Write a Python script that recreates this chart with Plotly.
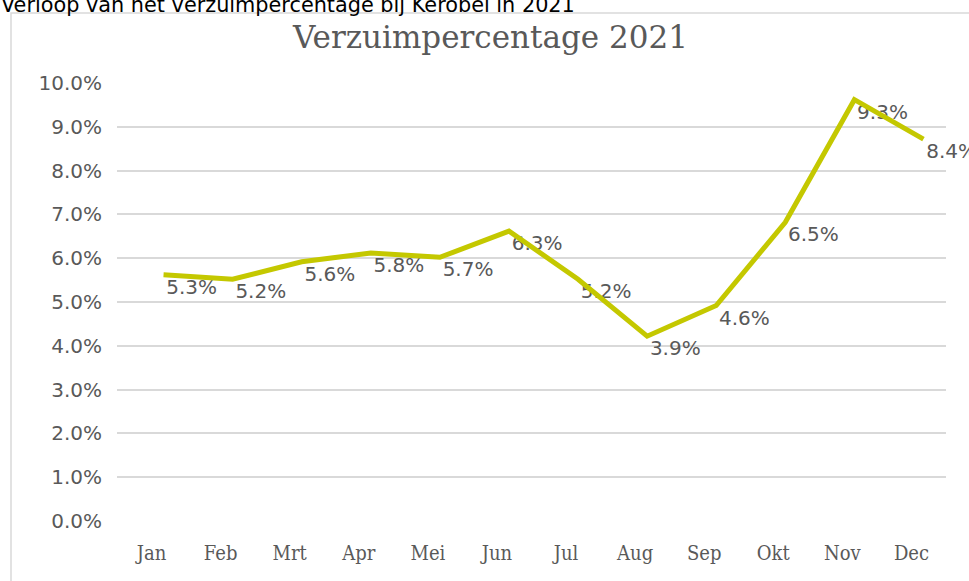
import plotly.graph_objects as go

# Data
months = ["Jan", "Feb", "Mrt", "Apr", "Mei", "Jun", "Jul", "Aug", "Sep", "Okt", "Nov", "Dec"]
verzuim = [0.053, 0.052, 0.056, 0.058, 0.057, 0.063, 0.052, 0.039, 0.046, 0.065, 0.093, 0.084]
y_ticks = [0.0, 0.01, 0.02, 0.03, 0.04, 0.05, 0.06, 0.07, 0.08, 0.09, 0.10]

LINE_COLOR = "#c4c800"
TEXT_GRAY = "#595959"
GRID = "#d9d9d9"

W, H = 969, 581
# plot area in pixels
L, R, T, B = 117, 958, 69, 521
PW, PH = R - L, B - T
# the line in the screenshot sits a little up and to the right of its axis
DX, DY = 12, 14

fig = go.Figure()

fig.add_trace(go.Scatter(
    x=months, y=verzuim, mode="lines",
    line=dict(color=LINE_COLOR, width=5),
    xaxis="x2", yaxis="y2",
    hoverinfo="skip", showlegend=False,
))

fig.add_trace(go.Scatter(
    x=months, y=verzuim, mode="markers+text",
    marker=dict(size=22, opacity=0),
    text=[f"{v * 100:.1f}%" for v in verzuim],
    textposition="middle right",
    textfont=dict(family="DejaVu Sans", size=20, color=TEXT_GRAY),
    cliponaxis=False,
    hoverinfo="skip", showlegend=False,
))

fig.update_layout(
    width=W, height=H,
    paper_bgcolor="white", plot_bgcolor="rgba(0,0,0,0)",
    margin=dict(l=L, r=W - R, t=T, b=H - B, pad=0),
    showlegend=False,
    xaxis=dict(
        domain=[0, (PW - DX) / PW],
        type="category", range=[-0.5, 11.5],
        showgrid=False, zeroline=False, showline=False, ticks="",
        tickfont=dict(family="DejaVu Serif Condensed", size=20, color=TEXT_GRAY),
        ticklabelstandoff=18, automargin=False,
    ),
    yaxis=dict(
        domain=[0, (PH - DY) / PH],
        range=[0, 0.10], tickvals=y_ticks, tickformat=".1%",
        showgrid=True, gridcolor=GRID, gridwidth=1.5,
        zeroline=False, showline=False, ticks="",
        tickfont=dict(family="DejaVu Sans", size=20, color=TEXT_GRAY),
        ticklabelstandoff=14, automargin=False,
    ),
    xaxis2=dict(
        domain=[DX / PW, 1], type="category", range=[-0.5, 11.5],
        anchor="y2", visible=False,
    ),
    yaxis2=dict(
        domain=[DY / PH, 1], range=[0, 0.10],
        anchor="x2", visible=False,
    ),
    shapes=[dict(
        type="rect", xref="paper", yref="paper",
        x0=(11 - L) / PW, x1=(W + 10 - L) / PW,
        y0=(B - H - 10) / PH, y1=(B - 13) / PH,
        line=dict(color=GRID, width=1.5), fillcolor="rgba(0,0,0,0)", layer="below",
    )],
    annotations=[
        dict(
            text="Verzuimpercentage 2021", xref="paper", yref="paper",
            x=(490 - L) / PW, y=(B - 37) / PH, xanchor="center", yanchor="middle",
            showarrow=False,
            font=dict(family="DejaVu Serif", size=31, color=TEXT_GRAY),
        ),
        dict(
            text="Verloop van het verzuimpercentage bij Kerobei in 2021",
            xref="paper", yref="paper",
            x=(-1 - L) / PW, y=(B - 19) / PH, xanchor="left", yanchor="bottom",
            showarrow=False,
            font=dict(family="DejaVu Sans", size=20.8, color="black"),
        ),
    ],
)

# drop the browser's default 8px body margin so the figure starts at the page corner
fig.write_html(
    "out.html",
    config={"displayModeBar": False},
    post_script="document.body.style.margin = '0';",
)
